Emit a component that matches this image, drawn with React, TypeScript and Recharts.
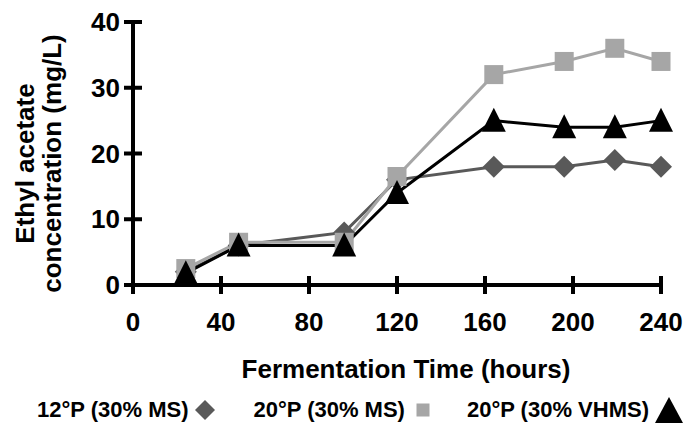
import { LineChart, Line, XAxis, YAxis, Legend } from 'recharts'

const hours = [24, 48, 96, 120, 164, 196, 219, 240]
const ms12 = [2, 6, 8, 16, 18, 18, 19, 18]
const ms20 = [2.5, 6.5, 6.5, 16.5, 32, 34, 36, 34]
const vhms20 = [1.8, 6, 6, 14, 25, 24, 24, 25]

const xTicks = [0, 40, 80, 120, 160, 200, 240]
const yTicks = [0, 10, 20, 30, 40]
const seriesNames = ['12°P (30% MS)', '20°P (30% MS)', '20°P (30% VHMS)']

const DIAMOND = '#595959'
const SQUARE = '#a6a6a6'
const TRIANGLE = '#000000'
const FONT = "'Liberation Sans', Arial, Helvetica, sans-serif"

const data = hours.map((h, i) => ({
  h,
  ms12: ms12[i],
  ms20: ms20[i],
  vhms20: vhms20[i],
}))

const Diamond = ({ cx, cy, r = 11, fill = DIAMOND }: any) => (
  <path d={`M${cx},${cy - r} L${cx + r},${cy} L${cx},${cy + r} L${cx - r},${cy} Z`} fill={fill} />
)

const Square = ({ cx, cy, s = 19, fill = SQUARE }: any) => (
  <rect x={cx - s / 2} y={cy - s / 2} width={s} height={s} fill={fill} />
)

const Triangle = ({ cx, cy, w = 24, h = 22, fill = TRIANGLE }: any) => (
  <path d={`M${cx},${cy - h / 2 - 2} L${cx + w / 2},${cy + h / 2} L${cx - w / 2},${cy + h / 2} Z`} fill={fill} />
)

const XTick = ({ x, y, payload }: any) => (
  <g>
    <line x1={x} x2={x} y1={y - 9} y2={y + 9} stroke="#000" strokeWidth={4} />
    <text x={x} y={y + 46} textAnchor="middle" fontSize={26} fontWeight="bold" fontFamily={FONT} fill="#000">
      {payload.value}
    </text>
  </g>
)

const YTick = ({ x, y, payload }: any) => (
  <g>
    <line x1={x - 9} x2={x + 9} y1={y} y2={y} stroke="#000" strokeWidth={4} />
    <text x={x - 13} y={y + 9} textAnchor="end" fontSize={26} fontWeight="bold" fontFamily={FONT} fill="#000">
      {payload.value}
    </text>
  </g>
)

const YTitle = ({ viewBox }: any) => {
  const cy = viewBox.y + viewBox.height / 2 + 10
  return (
    <g fontSize={26} fontWeight="bold" fontFamily={FONT} fill="#000">
      <text transform={`translate(25,${cy}) rotate(-90)`} textAnchor="middle" dominantBaseline="central">
        Ethyl acetate
      </text>
      <text transform={`translate(52,${cy}) rotate(-90)`} textAnchor="middle" dominantBaseline="central">
        concentration (mg/L)
      </text>
    </g>
  )
}

const XTitle = ({ viewBox }: any) => (
  <text
    x={viewBox.x + viewBox.width / 2 + 9}
    y={378}
    textAnchor="middle"
    fontSize={26}
    fontWeight="bold"
    fontFamily={FONT}
    fill="#000"
  >
    Fermentation Time (hours)
  </text>
)

const renderLegend = () => {
  const item = { display: 'flex', alignItems: 'center', whiteSpace: 'nowrap' as const }
  return (
    <div
      style={{
        display: 'flex',
        alignItems: 'center',
        height: 30,
        fontFamily: FONT,
        fontWeight: 'bold',
        fontSize: 22,
        color: '#000',
        paddingLeft: 37,
      }}
    >
      <span style={item}>
        {seriesNames[0]}
        <svg width={24} height={24} style={{ marginLeft: 5 }}>
          <Diamond cx={12} cy={12} r={10} />
        </svg>
      </span>
      <span style={{ ...item, marginLeft: 36 }}>
        {seriesNames[1]}
        <svg width={20} height={20} style={{ marginLeft: 8 }}>
          <Square cx={10} cy={10} s={13} />
        </svg>
      </span>
      <span style={{ ...item, marginLeft: 34 }}>
        {seriesNames[2]}
        <svg width={30} height={28} style={{ marginLeft: 5 }}>
          <Triangle cx={15} cy={15} w={28} h={24} />
        </svg>
      </span>
    </div>
  )
}

export default function App() {
  return (
    <div style={{ position: 'absolute', left: 0, top: 0, width: 685, height: 425, background: '#fff' }}>
      <LineChart width={685} height={425} data={data} margin={{ top: 22, right: 24, left: 0, bottom: 0 }}>
        <XAxis
          dataKey="h"
          type="number"
          domain={[0, 240]}
          ticks={xTicks}
          interval={0}
          height={110}
          tickSize={0}
          tickMargin={0}
          tickLine={false}
          axisLine={{ stroke: '#000', strokeWidth: 4 }}
          tick={<XTick />}
          label={<XTitle />}
        />
        <YAxis
          type="number"
          domain={[0, 40]}
          ticks={yTicks}
          interval={0}
          width={133}
          tickSize={0}
          tickMargin={0}
          tickLine={false}
          axisLine={{ stroke: '#000', strokeWidth: 4 }}
          tick={<YTick />}
          label={<YTitle />}
        />
        <Legend verticalAlign="bottom" height={30} content={renderLegend} />
        <Line
          dataKey="ms12"
          name={seriesNames[0]}
          stroke={DIAMOND}
          strokeWidth={3}
          dot={(p: any) => <Diamond key={`d${p.index}`} cx={p.cx} cy={p.cy} />}
          activeDot={false}
          isAnimationActive={false}
        />
        <Line
          dataKey="ms20"
          name={seriesNames[1]}
          stroke={SQUARE}
          strokeWidth={3}
          dot={(p: any) => <Square key={`s${p.index}`} cx={p.cx} cy={p.cy} />}
          activeDot={false}
          isAnimationActive={false}
        />
        <Line
          dataKey="vhms20"
          name={seriesNames[2]}
          stroke={TRIANGLE}
          strokeWidth={3}
          dot={(p: any) => <Triangle key={`t${p.index}`} cx={p.cx} cy={p.cy} />}
          activeDot={false}
          isAnimationActive={false}
        />
      </LineChart>
    </div>
  )
}
